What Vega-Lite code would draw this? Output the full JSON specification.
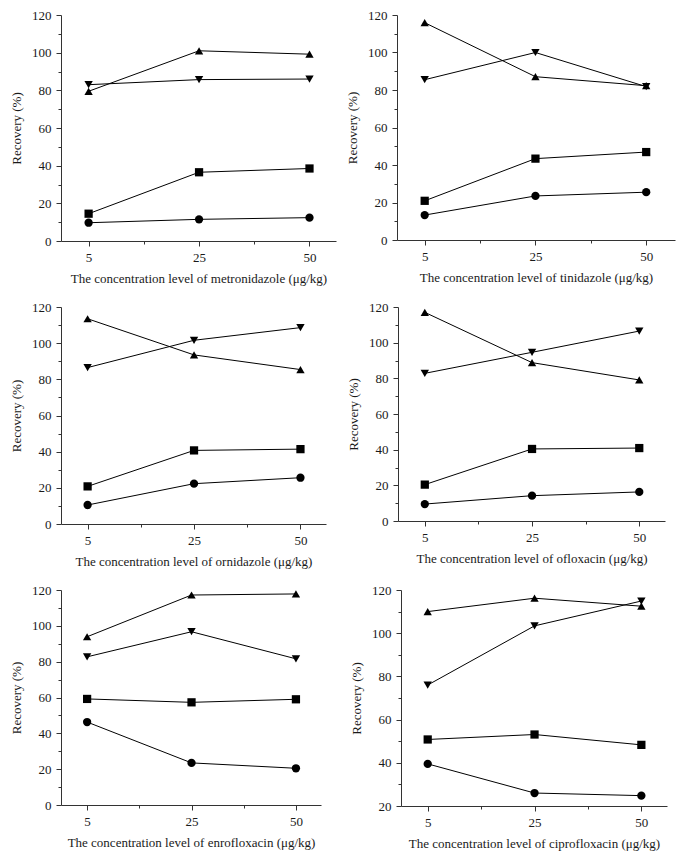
{
  "$schema": "https://vega.github.io/schema/vega-lite/v6.json",
  "padding": {"left": 10, "top": 9, "right": 5, "bottom": 5},
  "background": "white",
  "config": {
    "view": {"stroke": null},
    "font": "Liberation Serif",
    "axis": {
      "labelFont": "Liberation Serif",
      "titleFont": "Liberation Serif",
      "labelFontSize": 13,
      "titleFontSize": 13,
      "titleFontWeight": "normal",
      "labelColor": "#1a1a1a",
      "titleColor": "#1a1a1a",
      "domainColor": "#333",
      "tickColor": "#333",
      "tickWidth": 1,
      "grid": false
    }
  },
  "datasets": {
    "rec": [
      {"panel": "metronidazole", "level": 1, "series": "square", "value": 14.5},
      {"panel": "metronidazole", "level": 2, "series": "square", "value": 36.5},
      {"panel": "metronidazole", "level": 3, "series": "square", "value": 38.5},
      {"panel": "metronidazole", "level": 1, "series": "circle", "value": 9.7},
      {"panel": "metronidazole", "level": 2, "series": "circle", "value": 11.5},
      {"panel": "metronidazole", "level": 3, "series": "circle", "value": 12.4},
      {"panel": "metronidazole", "level": 1, "series": "triangle-up", "value": 79.5},
      {"panel": "metronidazole", "level": 2, "series": "triangle-up", "value": 101},
      {"panel": "metronidazole", "level": 3, "series": "triangle-up", "value": 99.2},
      {"panel": "metronidazole", "level": 1, "series": "triangle-down", "value": 83},
      {"panel": "metronidazole", "level": 2, "series": "triangle-down", "value": 85.7},
      {"panel": "metronidazole", "level": 3, "series": "triangle-down", "value": 86},

      {"panel": "tinidazole", "level": 1, "series": "square", "value": 20.9},
      {"panel": "tinidazole", "level": 2, "series": "square", "value": 43.4},
      {"panel": "tinidazole", "level": 3, "series": "square", "value": 46.9},
      {"panel": "tinidazole", "level": 1, "series": "circle", "value": 13.3},
      {"panel": "tinidazole", "level": 2, "series": "circle", "value": 23.5},
      {"panel": "tinidazole", "level": 3, "series": "circle", "value": 25.5},
      {"panel": "tinidazole", "level": 1, "series": "triangle-up", "value": 115.9},
      {"panel": "tinidazole", "level": 2, "series": "triangle-up", "value": 87.1},
      {"panel": "tinidazole", "level": 3, "series": "triangle-up", "value": 82.3},
      {"panel": "tinidazole", "level": 1, "series": "triangle-down", "value": 85.5},
      {"panel": "tinidazole", "level": 2, "series": "triangle-down", "value": 100},
      {"panel": "tinidazole", "level": 3, "series": "triangle-down", "value": 81.8},

      {"panel": "ornidazole", "level": 1, "series": "square", "value": 20.8},
      {"panel": "ornidazole", "level": 2, "series": "square", "value": 40.7},
      {"panel": "ornidazole", "level": 3, "series": "square", "value": 41.4},
      {"panel": "ornidazole", "level": 1, "series": "circle", "value": 10.5},
      {"panel": "ornidazole", "level": 2, "series": "circle", "value": 22.3},
      {"panel": "ornidazole", "level": 3, "series": "circle", "value": 25.6},
      {"panel": "ornidazole", "level": 1, "series": "triangle-up", "value": 113.5},
      {"panel": "ornidazole", "level": 2, "series": "triangle-up", "value": 93.5},
      {"panel": "ornidazole", "level": 3, "series": "triangle-up", "value": 85.4},
      {"panel": "ornidazole", "level": 1, "series": "triangle-down", "value": 86.5},
      {"panel": "ornidazole", "level": 2, "series": "triangle-down", "value": 101.6},
      {"panel": "ornidazole", "level": 3, "series": "triangle-down", "value": 108.6},

      {"panel": "ofloxacin", "level": 1, "series": "square", "value": 20.4},
      {"panel": "ofloxacin", "level": 2, "series": "square", "value": 40.4},
      {"panel": "ofloxacin", "level": 3, "series": "square", "value": 40.9},
      {"panel": "ofloxacin", "level": 1, "series": "circle", "value": 9.5},
      {"panel": "ofloxacin", "level": 2, "series": "circle", "value": 14.2},
      {"panel": "ofloxacin", "level": 3, "series": "circle", "value": 16.3},
      {"panel": "ofloxacin", "level": 1, "series": "triangle-up", "value": 117},
      {"panel": "ofloxacin", "level": 2, "series": "triangle-up", "value": 88.8},
      {"panel": "ofloxacin", "level": 3, "series": "triangle-up", "value": 79.1},
      {"panel": "ofloxacin", "level": 1, "series": "triangle-down", "value": 82.8},
      {"panel": "ofloxacin", "level": 2, "series": "triangle-down", "value": 94.6},
      {"panel": "ofloxacin", "level": 3, "series": "triangle-down", "value": 106.5},

      {"panel": "enrofloxacin", "level": 1, "series": "square", "value": 59.2},
      {"panel": "enrofloxacin", "level": 2, "series": "square", "value": 57.3},
      {"panel": "enrofloxacin", "level": 3, "series": "square", "value": 59},
      {"panel": "enrofloxacin", "level": 1, "series": "circle", "value": 46.3},
      {"panel": "enrofloxacin", "level": 2, "series": "circle", "value": 23.5},
      {"panel": "enrofloxacin", "level": 3, "series": "circle", "value": 20.5},
      {"panel": "enrofloxacin", "level": 1, "series": "triangle-up", "value": 93.9},
      {"panel": "enrofloxacin", "level": 2, "series": "triangle-up", "value": 117.2},
      {"panel": "enrofloxacin", "level": 3, "series": "triangle-up", "value": 117.8},
      {"panel": "enrofloxacin", "level": 1, "series": "triangle-down", "value": 82.7},
      {"panel": "enrofloxacin", "level": 2, "series": "triangle-down", "value": 96.7},
      {"panel": "enrofloxacin", "level": 3, "series": "triangle-down", "value": 81.6},

      {"panel": "ciprofloxacin", "level": 1, "series": "square", "value": 50.8},
      {"panel": "ciprofloxacin", "level": 2, "series": "square", "value": 53.1},
      {"panel": "ciprofloxacin", "level": 3, "series": "square", "value": 48.3},
      {"panel": "ciprofloxacin", "level": 1, "series": "circle", "value": 39.5},
      {"panel": "ciprofloxacin", "level": 2, "series": "circle", "value": 26},
      {"panel": "ciprofloxacin", "level": 3, "series": "circle", "value": 24.8},
      {"panel": "ciprofloxacin", "level": 1, "series": "triangle-up", "value": 110},
      {"panel": "ciprofloxacin", "level": 2, "series": "triangle-up", "value": 116.2},
      {"panel": "ciprofloxacin", "level": 3, "series": "triangle-up", "value": 112.5},
      {"panel": "ciprofloxacin", "level": 1, "series": "triangle-down", "value": 76},
      {"panel": "ciprofloxacin", "level": 2, "series": "triangle-down", "value": 103.4},
      {"panel": "ciprofloxacin", "level": 3, "series": "triangle-down", "value": 114.9}
    ]
  },
  "data": {"name": "rec"},
  "spacing": 16,
  "vconcat": [
    {
      "spacing": 10,
      "hconcat": [
        {
          "width": 275, "height": 226,
          "transform": [{"filter": "datum.panel == 'metronidazole'"}],
          "resolve": {"axis": {"x": "independent", "y": "independent"}},
          "layer": [
            {"mark": {"type": "line", "color": "black", "strokeWidth": 1},
             "encoding": {
               "x": {"field": "level", "type": "quantitative", "scale": {"domain": [0.75, 3.24], "nice": false, "zero": false},
                     "axis": {"orient": "bottom", "values": [1, 2, 3], "labelExpr": "datum.value == 1 ? '5' : datum.value == 2 ? '25' : '50'", "tickSize": 5, "labelPadding": 5, "titlePadding": 8, "title": "The concentration level of metronidazole (μg/kg)"}},
               "y": {"field": "value", "type": "quantitative", "scale": {"domain": [0, 120], "nice": false},
                     "axis": {"orient": "left", "values": [0, 20, 40, 60, 80, 100, 120], "tickSize": 5, "labelPadding": 5, "titlePadding": 8, "title": "Recovery (%)"}},
               "detail": {"field": "series"}
             }},
            {"mark": {"type": "point", "filled": true, "color": "black", "opacity": 1},
             "encoding": {
               "x": {"field": "level", "type": "quantitative", "scale": {"domain": [0.75, 3.24], "nice": false, "zero": false},
                     "axis": {"orient": "bottom", "values": [1.5, 2.5], "tickSize": 3, "labels": false, "domain": false, "title": null}},
               "y": {"field": "value", "type": "quantitative", "scale": {"domain": [0, 120], "nice": false},
                     "axis": {"orient": "left", "values": [10, 30, 50, 70, 90, 110], "tickSize": 3, "labels": false, "domain": false, "title": null}},
               "shape": {"field": "series", "type": "nominal", "scale": {"domain": ["square", "circle", "triangle-up", "triangle-down"], "range": ["square", "circle", "triangle-up", "triangle-down"]}, "legend": null},
               "size": {"field": "series", "type": "nominal", "scale": {"domain": ["square", "circle", "triangle-up", "triangle-down"], "range": [68, 70, 105, 105]}, "legend": null}
             }}
          ]
        },
        {
          "width": 278, "height": 225,
          "transform": [{"filter": "datum.panel == 'tinidazole'"}],
          "resolve": {"axis": {"x": "independent", "y": "independent"}},
          "layer": [
            {"mark": {"type": "line", "color": "black", "strokeWidth": 1},
             "encoding": {
               "x": {"field": "level", "type": "quantitative", "scale": {"domain": [0.75, 3.26], "nice": false, "zero": false},
                     "axis": {"orient": "bottom", "values": [1, 2, 3], "labelExpr": "datum.value == 1 ? '5' : datum.value == 2 ? '25' : '50'", "tickSize": 5, "labelPadding": 5, "titlePadding": 8, "title": "The concentration level of tinidazole (μg/kg)"}},
               "y": {"field": "value", "type": "quantitative", "scale": {"domain": [0, 120], "nice": false},
                     "axis": {"orient": "left", "values": [0, 20, 40, 60, 80, 100, 120], "tickSize": 5, "labelPadding": 5, "titlePadding": 8, "title": "Recovery (%)"}},
               "detail": {"field": "series"}
             }},
            {"mark": {"type": "point", "filled": true, "color": "black", "opacity": 1},
             "encoding": {
               "x": {"field": "level", "type": "quantitative", "scale": {"domain": [0.75, 3.26], "nice": false, "zero": false},
                     "axis": {"orient": "bottom", "values": [1.5, 2.5], "tickSize": 3, "labels": false, "domain": false, "title": null}},
               "y": {"field": "value", "type": "quantitative", "scale": {"domain": [0, 120], "nice": false},
                     "axis": {"orient": "left", "values": [10, 30, 50, 70, 90, 110], "tickSize": 3, "labels": false, "domain": false, "title": null}},
               "shape": {"field": "series", "type": "nominal", "scale": {"domain": ["square", "circle", "triangle-up", "triangle-down"], "range": ["square", "circle", "triangle-up", "triangle-down"]}, "legend": null},
               "size": {"field": "series", "type": "nominal", "scale": {"domain": ["square", "circle", "triangle-up", "triangle-down"], "range": [68, 70, 105, 105]}, "legend": null}
             }}
          ]
        }
      ]
    },
    {
      "spacing": 21,
      "hconcat": [
        {
          "width": 265, "height": 217,
          "transform": [{"filter": "datum.panel == 'ornidazole'"}],
          "resolve": {"axis": {"x": "independent", "y": "independent"}},
          "layer": [
            {"mark": {"type": "line", "color": "black", "strokeWidth": 1},
             "encoding": {
               "x": {"field": "level", "type": "quantitative", "scale": {"domain": [0.75, 3.24], "nice": false, "zero": false},
                     "axis": {"orient": "bottom", "values": [1, 2, 3], "labelExpr": "datum.value == 1 ? '5' : datum.value == 2 ? '25' : '50'", "tickSize": 5, "labelPadding": 5, "titlePadding": 8, "title": "The concentration level of ornidazole (μg/kg)"}},
               "y": {"field": "value", "type": "quantitative", "scale": {"domain": [0, 120], "nice": false},
                     "axis": {"orient": "left", "values": [0, 20, 40, 60, 80, 100, 120], "tickSize": 5, "labelPadding": 5, "titlePadding": 8, "title": "Recovery (%)"}},
               "detail": {"field": "series"}
             }},
            {"mark": {"type": "point", "filled": true, "color": "black", "opacity": 1},
             "encoding": {
               "x": {"field": "level", "type": "quantitative", "scale": {"domain": [0.75, 3.24], "nice": false, "zero": false},
                     "axis": {"orient": "bottom", "values": [1.5, 2.5], "tickSize": 3, "labels": false, "domain": false, "title": null}},
               "y": {"field": "value", "type": "quantitative", "scale": {"domain": [0, 120], "nice": false},
                     "axis": {"orient": "left", "values": [10, 30, 50, 70, 90, 110], "tickSize": 3, "labels": false, "domain": false, "title": null}},
               "shape": {"field": "series", "type": "nominal", "scale": {"domain": ["square", "circle", "triangle-up", "triangle-down"], "range": ["square", "circle", "triangle-up", "triangle-down"]}, "legend": null},
               "size": {"field": "series", "type": "nominal", "scale": {"domain": ["square", "circle", "triangle-up", "triangle-down"], "range": [68, 70, 105, 105]}, "legend": null}
             }}
          ]
        },
        {
          "width": 267, "height": 214,
          "transform": [{"filter": "datum.panel == 'ofloxacin'"}],
          "resolve": {"axis": {"x": "independent", "y": "independent"}},
          "layer": [
            {"mark": {"type": "line", "color": "black", "strokeWidth": 1},
             "encoding": {
               "x": {"field": "level", "type": "quantitative", "scale": {"domain": [0.75, 3.24], "nice": false, "zero": false},
                     "axis": {"orient": "bottom", "values": [1, 2, 3], "labelExpr": "datum.value == 1 ? '5' : datum.value == 2 ? '25' : '50'", "tickSize": 5, "labelPadding": 5, "titlePadding": 8, "title": "The concentration level of ofloxacin (μg/kg)"}},
               "y": {"field": "value", "type": "quantitative", "scale": {"domain": [0, 120], "nice": false},
                     "axis": {"orient": "left", "values": [0, 20, 40, 60, 80, 100, 120], "tickSize": 5, "labelPadding": 5, "titlePadding": 8, "title": "Recovery (%)"}},
               "detail": {"field": "series"}
             }},
            {"mark": {"type": "point", "filled": true, "color": "black", "opacity": 1},
             "encoding": {
               "x": {"field": "level", "type": "quantitative", "scale": {"domain": [0.75, 3.24], "nice": false, "zero": false},
                     "axis": {"orient": "bottom", "values": [1.5, 2.5], "tickSize": 3, "labels": false, "domain": false, "title": null}},
               "y": {"field": "value", "type": "quantitative", "scale": {"domain": [0, 120], "nice": false},
                     "axis": {"orient": "left", "values": [10, 30, 50, 70, 90, 110], "tickSize": 3, "labels": false, "domain": false, "title": null}},
               "shape": {"field": "series", "type": "nominal", "scale": {"domain": ["square", "circle", "triangle-up", "triangle-down"], "range": ["square", "circle", "triangle-up", "triangle-down"]}, "legend": null},
               "size": {"field": "series", "type": "nominal", "scale": {"domain": ["square", "circle", "triangle-up", "triangle-down"], "range": [68, 70, 105, 105]}, "legend": null}
             }}
          ]
        }
      ]
    },
    {
      "spacing": 29,
      "hconcat": [
        {
          "width": 260, "height": 215,
          "transform": [{"filter": "datum.panel == 'enrofloxacin'"}],
          "resolve": {"axis": {"x": "independent", "y": "independent"}},
          "layer": [
            {"mark": {"type": "line", "color": "black", "strokeWidth": 1},
             "encoding": {
               "x": {"field": "level", "type": "quantitative", "scale": {"domain": [0.75, 3.24], "nice": false, "zero": false},
                     "axis": {"orient": "bottom", "values": [1, 2, 3], "labelExpr": "datum.value == 1 ? '5' : datum.value == 2 ? '25' : '50'", "tickSize": 5, "labelPadding": 5, "titlePadding": 8, "title": "The concentration level of enrofloxacin (μg/kg)"}},
               "y": {"field": "value", "type": "quantitative", "scale": {"domain": [0, 120], "nice": false},
                     "axis": {"orient": "left", "values": [0, 20, 40, 60, 80, 100, 120], "tickSize": 5, "labelPadding": 5, "titlePadding": 8, "title": "Recovery (%)"}},
               "detail": {"field": "series"}
             }},
            {"mark": {"type": "point", "filled": true, "color": "black", "opacity": 1},
             "encoding": {
               "x": {"field": "level", "type": "quantitative", "scale": {"domain": [0.75, 3.24], "nice": false, "zero": false},
                     "axis": {"orient": "bottom", "values": [1.5, 2.5], "tickSize": 3, "labels": false, "domain": false, "title": null}},
               "y": {"field": "value", "type": "quantitative", "scale": {"domain": [0, 120], "nice": false},
                     "axis": {"orient": "left", "values": [10, 30, 50, 70, 90, 110], "tickSize": 3, "labels": false, "domain": false, "title": null}},
               "shape": {"field": "series", "type": "nominal", "scale": {"domain": ["square", "circle", "triangle-up", "triangle-down"], "range": ["square", "circle", "triangle-up", "triangle-down"]}, "legend": null},
               "size": {"field": "series", "type": "nominal", "scale": {"domain": ["square", "circle", "triangle-up", "triangle-down"], "range": [68, 70, 105, 105]}, "legend": null}
             }}
          ]
        },
        {
          "width": 266, "height": 216,
          "transform": [{"filter": "datum.panel == 'ciprofloxacin'"}],
          "resolve": {"axis": {"x": "independent", "y": "independent"}},
          "layer": [
            {"mark": {"type": "line", "color": "black", "strokeWidth": 1},
             "encoding": {
               "x": {"field": "level", "type": "quantitative", "scale": {"domain": [0.75, 3.24], "nice": false, "zero": false},
                     "axis": {"orient": "bottom", "values": [1, 2, 3], "labelExpr": "datum.value == 1 ? '5' : datum.value == 2 ? '25' : '50'", "tickSize": 5, "labelPadding": 5, "titlePadding": 8, "title": "The concentration level of ciprofloxacin (μg/kg)"}},
               "y": {"field": "value", "type": "quantitative", "scale": {"domain": [20, 120], "nice": false, "zero": false},
                     "axis": {"orient": "left", "values": [20, 40, 60, 80, 100, 120], "tickSize": 5, "labelPadding": 5, "titlePadding": 8, "title": "Recovery (%)"}},
               "detail": {"field": "series"}
             }},
            {"mark": {"type": "point", "filled": true, "color": "black", "opacity": 1},
             "encoding": {
               "x": {"field": "level", "type": "quantitative", "scale": {"domain": [0.75, 3.24], "nice": false, "zero": false},
                     "axis": {"orient": "bottom", "values": [1.5, 2.5], "tickSize": 3, "labels": false, "domain": false, "title": null}},
               "y": {"field": "value", "type": "quantitative", "scale": {"domain": [20, 120], "nice": false, "zero": false},
                     "axis": {"orient": "left", "values": [30, 50, 70, 90, 110], "tickSize": 3, "labels": false, "domain": false, "title": null}},
               "shape": {"field": "series", "type": "nominal", "scale": {"domain": ["square", "circle", "triangle-up", "triangle-down"], "range": ["square", "circle", "triangle-up", "triangle-down"]}, "legend": null},
               "size": {"field": "series", "type": "nominal", "scale": {"domain": ["square", "circle", "triangle-up", "triangle-down"], "range": [68, 70, 105, 105]}, "legend": null}
             }}
          ]
        }
      ]
    }
  ]
}
